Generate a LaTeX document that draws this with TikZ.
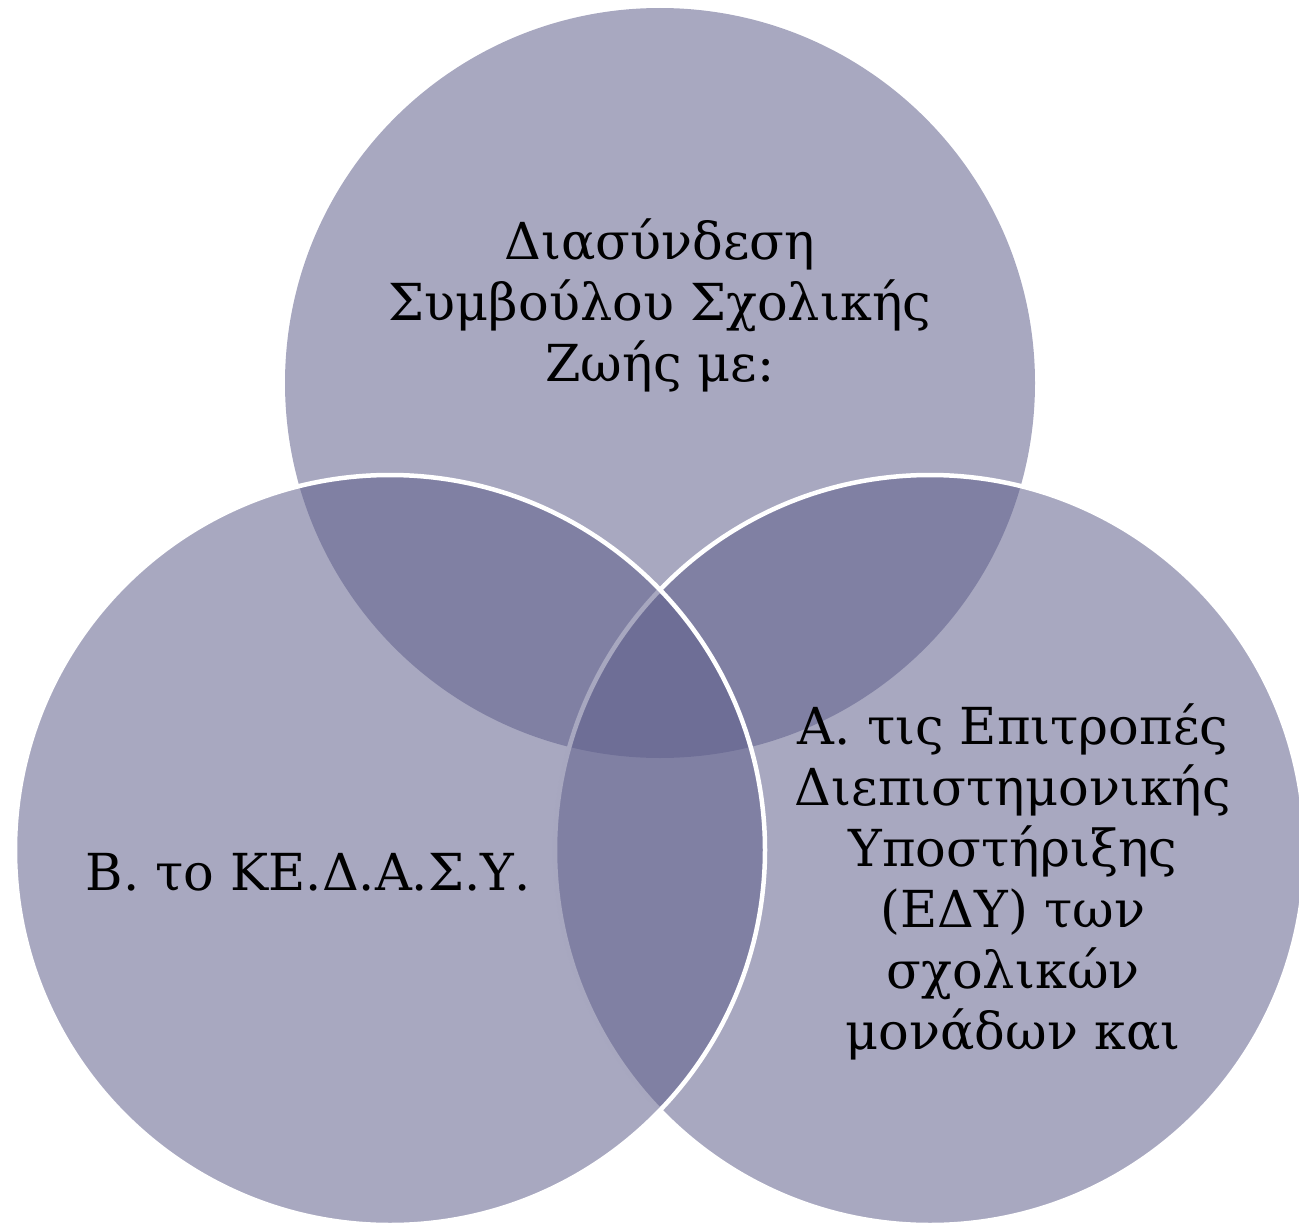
\documentclass[tikz,border=0pt]{standalone}
\usepackage{fontspec}
\setmainfont{DejaVu Serif}
\definecolor{venn}{RGB}{96,96,140}
\begin{document}
\begin{tikzpicture}[x=1pt,y=1pt,
  disc/.style={fill=venn,fill opacity=0.55},
  rim/.style={draw=white,line width=4.5pt},
  lbl/.style={align=center,text=black,inner sep=0pt,font=\fontsize{51}{61}\selectfont}]
\useasboundingbox (0,0) rectangle (1299,-1223);
\path[disc] (660,-383) circle (375);
\path[disc,rim] (930,-850) circle (375);
\path[disc,rim] (390,-850) circle (375);
\node[lbl] (top) at (660,-305) {Διασύνδεση\\Συμβούλου Σχολικής\\Ζωής με:};
\node[lbl] (left) at (308,-873) {Β. το ΚΕ.Δ.Α.Σ.Υ.};
\node[lbl] (right) at (1013,-882) {Α. τις Επιτροπές\\Διεπιστημονικής\\Υποστήριξης\\(ΕΔΥ) των\\σχολικών\\μονάδων και};
\end{tikzpicture}
\end{document}
